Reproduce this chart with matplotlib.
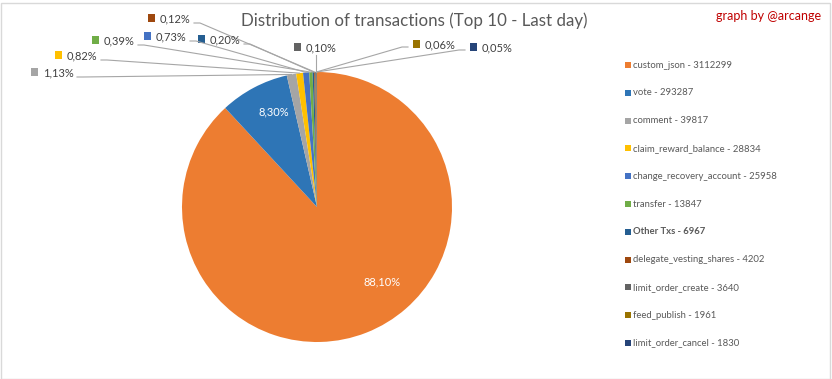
import numpy as np
import matplotlib.pyplot as plt
from matplotlib.patches import Rectangle
from matplotlib.lines import Line2D

plt.rcParams['font.family'] = ['Lato', 'DejaVu Sans']

names = ['custom_json', 'vote', 'comment', 'claim_reward_balance',
         'change_recovery_account', 'transfer', 'Other Txs',
         'delegate_vesting_shares', 'limit_order_create', 'feed_publish',
         'limit_order_cancel']
counts = [3112299, 293287, 39817, 28834, 25958, 13847, 6967, 4202, 3640, 1961, 1830]
colors = ['#ED7D31', '#2E75B6', '#A5A5A5', '#FFC000', '#4472C4', '#70AD47',
          '#255E91', '#9E480E', '#636363', '#997300', '#264478']

W, H = 832, 379
fig = plt.figure(figsize=(W / 100, H / 100), dpi=100)
fig.add_artist(Rectangle((0.5 / W, 0.5 / H), 1 - 2.5 / W, 1 - 3 / H, transform=fig.transFigure,
                         fill=False, edgecolor='#D9D9D9', lw=1))

def fx(x):
    return x / W

def fy(y):
    return 1 - y / H

# pie axes: centre and radius in pixels
cx, cy, r = 317, 207, 135
ax = fig.add_axes([fx(cx - r), fy(cy + r), 2 * r / W, 2 * r / H])
vals = np.array(counts, dtype=float)
total = vals.sum()
pct = vals / total * 100
ax.pie(vals, colors=colors, startangle=90, counterclock=False,
       wedgeprops=dict(linewidth=0))
ax.set_xlim(-1, 1)
ax.set_ylim(-1, 1)
ax.axis('off')

def fmt(p):
    return '{:.2f}%'.format(p).replace('.', ',')

txt_col = '#404040'
lsize = 8.0

# inside labels
for i, (lx, ly) in {1: (274, 112), 0: (382, 282)}.items():
    fig.text(fx(lx), fy(ly), fmt(pct[i]), color='white', fontsize=lsize, ha='center', va='center')

# outside labels (marker x, y centre, side) in pixels
layout = {2: (34, 72, 'left'), 3: (58, 55, 'left'), 4: (147, 36, 'left'),
          5: (95, 40, 'left'), 6: (201, 39, 'left'), 7: (151, 18, 'left'),
          8: (297, 47, 'below'), 9: (416, 44, 'right'), 10: (473, 47, 'right')}
cum = np.cumsum(vals) - vals / 2
for i, (mx, my, side) in layout.items():
    fig.add_artist(Rectangle((fx(mx - 3.5), fy(my + 3.5)), 7 / W, 7 / H,
                             transform=fig.transFigure, color=colors[i], lw=0))
    fig.text(fx(mx + 9), fy(my + 1), fmt(pct[i]), color=txt_col, fontsize=lsize,
             ha='left', va='center')
    ang = np.deg2rad(90 - 360 * cum[i] / total)
    px, py = ax.transData.transform((np.cos(ang), np.sin(ang)))
    tw = 34
    if side == 'left':
        x0, y0 = mx + 9 + tw, H - (my + 5)
        pts = [(x0, y0), (x0 + 6, y0), (px, py)]
    elif side == 'right':
        x0, y0 = mx - 8, H - (my + 3)
        pts = [(x0, y0), (x0 - 6, y0), (px, py)]
    else:
        x0, y0 = px, H - (my + 8)
        pts = [(x0, y0), (px, py)]
    xs = [p[0] / W for p in pts]
    ys = [p[1] / H for p in pts]
    fig.add_artist(Line2D(xs, ys, transform=fig.transFigure, color='#A6A6A6', lw=0.8))

fig.text(fx(414), fy(21), 'Distribution of transactions (Top 10 - Last day)',
         color='#595959', fontsize=12.2, ha='center', va='center')
fig.text(fx(821), fy(16), 'graph by @arcange', color='#C00000', fontsize=9.0,
         ha='right', va='center')

# legend
for k, name in enumerate(names):
    ly = 65 + k * 27.8
    fig.add_artist(Rectangle((fx(625), fy(ly + 3)), 6 / W, 6 / H,
                             transform=fig.transFigure, color=colors[k], lw=0))
    fig.text(fx(633), fy(ly), '{} - {}'.format(name, counts[k]), color='#595959',
             fontsize=6.8, ha='left', va='center',
             fontweight='bold' if name == 'Other Txs' else 'normal')

fig.savefig('out.png', dpi=100)
